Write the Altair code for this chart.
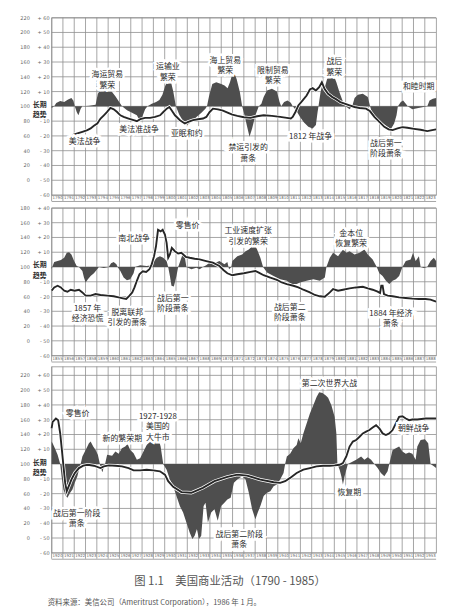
import altair as alt
import pandas as pd

GRID = "#8e8e8e"
AREA = "#4e4e4e"
LINE = "#262626"
TXT = "#2a2a2a"
CJK = "Noto Sans CJK SC"

# ---------------- Panel 1 : 1790-1824 ----------------
P1_YEARS = list(range(1790, 1824))
P1_AREA = [
    (1790.0, 97.8), (1790.23, 100), (1790.41, 104.5), (1790.76, 107.1), (1791.11, 105.8),
    (1791.46, 109.4), (1791.75, 111.2), (1791.93, 107.6), (1792.05, 100), (1792.22, 92.4),
    (1792.37, 88), (1792.57, 96.9), (1792.72, 100), (1793.30, 100.9), (1793.89, 102.2),
    (1794.09, 117), (1794.33, 122.8), (1794.62, 124.6), (1794.97, 122.8), (1795.26, 121),
    (1795.64, 113.8), (1796.02, 104.9), (1796.23, 100), (1796.67, 94.6), (1797.11, 91.5),
    (1797.54, 87.9), (1797.78, 81.3), (1798.01, 85.7), (1798.27, 96), (1798.48, 100),
    (1798.86, 103.6), (1799.24, 105.8), (1799.53, 108.5), (1799.80, 115.6), (1800.06, 128.1),
    (1800.32, 135.3), (1800.56, 132.6), (1800.76, 120.1), (1800.99, 100), (1801.29, 88.8),
    (1801.64, 79.9), (1801.99, 74.6), (1802.37, 79), (1802.81, 85.7), (1803.25, 91.5),
    (1803.60, 96.9), (1803.74, 100), (1803.92, 113.8), (1804.21, 130.4), (1804.56, 132.6),
    (1805.0, 130.4), (1805.29, 128.1), (1805.56, 124.6), (1805.77, 132.6), (1805.98, 143.8),
    (1806.12, 146), (1806.36, 137), (1806.65, 119.2), (1806.85, 100), (1807.06, 88),
    (1807.29, 72.3), (1807.50, 58.9), (1807.73, 70.1), (1808.02, 88), (1808.32, 100),
    (1808.55, 103.6), (1808.75, 112.5), (1809.05, 121.4), (1809.48, 123.7), (1809.92, 120.1),
    (1810.16, 105.8), (1810.30, 100), (1810.56, 105.8), (1810.86, 108), (1811.15, 104.9),
    (1811.32, 100), (1811.62, 94.6), (1811.97, 85.7), (1812.32, 78.1), (1812.70, 72.3),
    (1813.08, 70.1), (1813.37, 74.6), (1813.52, 92.4), (1813.60, 100), (1813.78, 119.2),
    (1813.95, 130.4), (1814.16, 125.9), (1814.36, 137), (1814.60, 145.1), (1814.89, 143.8),
    (1815.18, 132.6), (1815.47, 118.3), (1815.77, 105.8), (1816.0, 100), (1816.35, 96),
    (1816.58, 100), (1816.79, 111.2), (1817.08, 115.6), (1817.52, 117), (1817.96, 112.5),
    (1818.16, 100), (1818.39, 88.8), (1818.92, 81.3), (1819.50, 74.6), (1820.0, 69.2),
    (1820.29, 76.8), (1820.50, 88), (1820.62, 100), (1820.88, 105.8), (1821.08, 108),
    (1821.32, 103.6), (1821.49, 100), (1821.90, 96), (1822.43, 97.8), (1823.01, 99.6),
    (1823.22, 100), (1823.42, 108), (1823.71, 110.3), (1824.0, 111.2),
]
P1_LINE = [
    (1791.55, 56.7), (1791.84, 61.2), (1792.28, 63.4), (1792.72, 65.6), (1793.16, 67.9),
    (1793.45, 70.1), (1793.74, 73.7), (1794.04, 76.8), (1794.33, 83.5), (1794.62, 87.9),
    (1794.91, 92.4), (1795.20, 97.8), (1795.50, 96), (1795.79, 92.4), (1796.08, 87.9),
    (1796.37, 85.7), (1796.81, 83.5), (1797.25, 81.3), (1797.54, 79.9), (1797.84, 82.6),
    (1798.27, 84.4), (1798.71, 84.4), (1799.15, 85.7), (1799.59, 87.9), (1799.88, 92.4),
    (1800.18, 96.9), (1800.41, 99.1), (1800.61, 94.6), (1800.91, 87.9), (1801.35, 81.3),
    (1801.78, 76.8), (1802.08, 79), (1802.51, 81.3), (1802.95, 82.6), (1803.39, 83.5),
    (1803.68, 85.7), (1803.98, 92.4), (1804.27, 96.9), (1804.71, 96), (1805.15, 94.2),
    (1805.56, 91.5), (1805.98, 88.8), (1806.42, 87.1), (1807.0, 85.3), (1807.59, 84.4),
    (1808.17, 86.6), (1808.75, 87.9), (1809.48, 87.1), (1810.21, 85.7), (1810.80, 84.4),
    (1811.15, 83.5), (1811.32, 85.7), (1811.56, 92.4), (1811.82, 101.3), (1812.20, 108),
    (1812.55, 114.7), (1812.84, 122.8), (1813.08, 124.6), (1813.37, 121.4), (1813.66, 125.9),
    (1813.90, 132.6), (1814.13, 123.7), (1814.45, 117), (1814.83, 112.5), (1815.18, 109.4),
    (1815.53, 105.8), (1815.91, 103.6), (1816.35, 101.3), (1816.79, 99.1), (1817.23, 97.8),
    (1817.81, 96.9), (1818.16, 93.3), (1818.54, 85.7), (1818.98, 79), (1819.42, 72.3),
    (1819.80, 68.8), (1820.15, 67.9), (1820.59, 70.1), (1821.02, 71.9), (1821.46, 71),
    (1822.05, 69.6), (1822.63, 68.3), (1823.22, 66.5), (1823.65, 67.9), (1824.0, 68.8),
]
P1_NOTES = [
    (1794.93, 142.2, "海运贸易\n繁荣"),
    (1800.28, 152.9, "运输业\n繁荣"),
    (1805.36, 161.7, "海上贸易\n繁荣"),
    (1809.57, 148.3, "限制贸易\n繁荣"),
    (1815.0, 159.7, "战后\n繁荣"),
    (1822.46, 126.1, "和睦时期"),
    (1792.92, 51.1, "美法战争"),
    (1797.74, 68.5, "美法准战争"),
    (1801.95, 63.1, "亚眠和约"),
    (1807.38, 43.0, "禁运引发的\n萧条"),
    (1812.9, 59.1, "1812 年战争"),
    (1819.56, 49.7, "战后第一\n阶段萧条"),
]
P1_TICKS = [220, 200, 180, 160, 140, 120, 100, 80, 60, 40, 20, 0, -20]
P1_IDX_LAB = ["220", "200", "180", "160", "140", "120", "100", "80", "60", "40", "20", "0", ""]
P1_DEV_LAB = ["+ 60", "+ 50", "+ 40", "+ 30", "+ 20", "+ 10", "", "- 10", "- 20", "- 30", "- 40", "- 50", "- 60"]

# ---------------- Panel 2 : 1855-1889 ----------------
P2_YEARS = list(range(1855, 1889))
P2_AREA = [
    (1855.0, 96.9), (1855.09, 101.3), (1855.23, 106.7), (1855.53, 108), (1855.82, 109.4),
    (1856.11, 112.5), (1856.34, 119.2), (1856.55, 120.1), (1856.75, 117), (1856.99, 108),
    (1857.22, 101.3), (1857.42, 100), (1857.72, 94.6), (1857.86, 85.7), (1858.01, 79),
    (1858.21, 83.5), (1858.45, 87.9), (1858.74, 91.5), (1859.03, 96.9), (1859.18, 100),
    (1859.62, 98.7), (1860.05, 100), (1860.26, 104.9), (1860.49, 106.7), (1860.73, 103.6),
    (1860.84, 100), (1861.08, 94.6), (1861.37, 85.7), (1861.66, 82.1), (1861.95, 83.5),
    (1862.25, 91.5), (1862.39, 100), (1862.83, 102.2), (1863.41, 101.3), (1863.85, 102.2),
    (1864.06, 108), (1864.29, 112.5), (1864.58, 114.7), (1864.87, 112.5), (1865.17, 108),
    (1865.31, 100), (1865.46, 87.9), (1865.60, 74.6), (1865.81, 73.7), (1866.04, 87.9),
    (1866.19, 100), (1866.48, 112.5), (1866.63, 119.2), (1866.77, 114.7), (1866.92, 100),
    (1867.36, 96.9), (1867.80, 99.1), (1868.09, 96.9), (1868.38, 100), (1868.67, 102.2),
    (1868.96, 105.8), (1869.40, 104.9), (1869.84, 108), (1870.28, 103.6), (1870.54, 106.7),
    (1870.69, 96.9), (1870.89, 100), (1870.98, 108), (1871.42, 114.7), (1871.85, 117),
    (1872.15, 121.4), (1872.44, 123.7), (1872.73, 128.1), (1872.94, 130.4), (1873.17, 123.7),
    (1873.46, 112.5), (1873.70, 100), (1874.05, 92.4), (1874.63, 87.9), (1875.21, 83.5),
    (1875.80, 81.3), (1876.24, 76.8), (1876.67, 76.8), (1876.97, 79), (1877.55, 81.3),
    (1878.14, 83.5), (1878.72, 81.3), (1879.16, 85.7), (1879.30, 100), (1879.60, 112.5),
    (1879.89, 119.2), (1880.33, 114.7), (1880.77, 123.7), (1881.06, 119.2), (1881.35, 121.4),
    (1881.79, 117), (1882.23, 119.2), (1882.66, 123.7), (1882.96, 117), (1883.39, 110.3),
    (1883.75, 100), (1883.98, 91.5), (1884.27, 87.9), (1884.56, 81.3), (1884.86, 76.8),
    (1885.15, 81.3), (1885.44, 83.5), (1885.73, 87.9), (1886.02, 100), (1886.32, 108),
    (1886.75, 110.3), (1886.96, 119.2), (1887.19, 108), (1887.48, 114.7), (1887.63, 100),
    (1887.92, 98.7), (1888.21, 100), (1888.51, 108), (1888.80, 112.5), (1889.0, 108),
]
P2_LINE = [
    (1855.0, 67.9), (1855.23, 72.3), (1855.53, 74.6), (1855.82, 72.3), (1856.11, 67.9),
    (1856.40, 66.5), (1856.69, 69.2), (1857.04, 67.9), (1857.42, 69.2), (1857.72, 65.6),
    (1858.01, 61.2), (1858.45, 61.2), (1858.89, 63.4), (1859.32, 62.1), (1859.91, 61.2),
    (1860.49, 60.3), (1860.93, 58.9), (1861.31, 57.6), (1861.60, 56.7), (1861.89, 61.2),
    (1862.13, 65.6), (1862.33, 72.3), (1862.54, 81.3), (1862.77, 90.2), (1863.06, 94.2),
    (1863.36, 93.3), (1863.65, 96.9), (1863.85, 103.6), (1864.06, 114.7), (1864.23, 128.1),
    (1864.41, 150.4), (1864.64, 148.2), (1864.82, 150.4), (1865.02, 143.8), (1865.17, 132.6),
    (1865.31, 112.5), (1865.46, 117), (1865.63, 125.9), (1865.90, 121.4), (1866.19, 118.3),
    (1866.48, 119.2), (1866.86, 113.8), (1867.21, 112.5), (1867.65, 111.2), (1868.09, 110.3),
    (1868.67, 108), (1869.26, 105.8), (1869.84, 101.3), (1870.19, 96), (1870.54, 91.5),
    (1870.98, 88.8), (1871.42, 90.2), (1872.0, 91.5), (1872.59, 93.3), (1873.02, 94.6),
    (1873.32, 92.4), (1873.75, 88.8), (1874.34, 85.7), (1874.92, 82.6), (1875.36, 79),
    (1875.80, 76.8), (1876.38, 74.6), (1876.82, 72.3), (1877.26, 69.2), (1877.84, 65.6),
    (1878.28, 62.1), (1878.72, 60.3), (1879.16, 59.8), (1879.60, 65.6), (1879.89, 70.1),
    (1880.33, 67.9), (1880.77, 69.2), (1881.35, 71), (1881.93, 72.3), (1882.52, 73.2),
    (1882.96, 71), (1883.39, 69.2), (1883.83, 66.5), (1884.04, 64.7), (1884.15, 74.6),
    (1884.27, 74.6), (1884.39, 63.4), (1884.71, 61.2), (1885.15, 60.3), (1885.73, 58.9),
    (1886.32, 58), (1886.90, 57.1), (1887.48, 56.7), (1888.07, 56.7), (1888.51, 55.8),
    (1889.0, 53.1),
]
P2_NOTES = [
    (1867.03, 155.0, "零售价"),
    (1862.3, 137.5, "南北战争"),
    (1872.38, 148.3, "工业速度扩张\n引发的繁荣"),
    (1881.49, 144.9, "金本位\n恢复繁荣"),
    (1858.18, 43.0, "1857 年\n经济恐慌"),
    (1861.69, 38.3, "脱离联邦\n引发的萧条"),
    (1865.72, 57.1, "战后第一\n阶段萧条"),
    (1876.06, 44.4, "战后第二\n阶段萧条"),
    (1885.0, 36.3, "1884 年经济\n萧条"),
]
P2_TICKS = [180, 160, 140, 120, 100, 80, 60, 40, 20, 0, -20]
P2_IDX_LAB = ["180", "160", "140", "120", "100", "80", "60", "40", "20", "0", ""]
P2_DEV_LAB = ["+ 40", "+ 30", "+ 20", "+ 10", "", "- 10", "- 20", "- 30", "- 40", "- 50", "- 60"]

# ---------------- Panel 3 : 1920-1954 ----------------
P3_YEARS = list(range(1920, 1954))
P3_AREA = [
    (1920.0, 130.4), (1920.09, 128.1), (1920.29, 121.4), (1920.53, 112.5), (1920.76, 100),
    (1920.88, 83.5), (1921.05, 65.6), (1921.26, 56.7), (1921.40, 54.5), (1921.64, 61.2),
    (1921.84, 65.6), (1922.05, 74.6), (1922.28, 83.5), (1922.42, 92.4), (1922.57, 100),
    (1922.72, 110.3), (1923.01, 119.2), (1923.30, 128.1), (1923.45, 130.4), (1923.68, 123.7),
    (1923.89, 119.2), (1924.09, 112.5), (1924.27, 100), (1924.38, 93.3), (1924.50, 88.8),
    (1924.62, 96.9), (1924.73, 100), (1924.91, 112.5), (1925.35, 111.2), (1925.64, 117),
    (1925.93, 113.8), (1926.22, 121.4), (1926.51, 123.7), (1926.72, 127.2), (1926.95, 119.2),
    (1927.25, 114.7), (1927.54, 105.8), (1927.83, 108), (1928.12, 117), (1928.41, 125.9),
    (1928.71, 130.4), (1929.0, 134.8), (1929.23, 139.3), (1929.44, 134.8), (1929.64, 123.7),
    (1929.87, 100), (1930.17, 92.4), (1930.46, 79), (1930.75, 70.1), (1931.04, 56.7),
    (1931.34, 43.3), (1931.63, 34.4), (1931.92, 21), (1932.21, 7.6), (1932.45, -1.3),
    (1932.65, 3.1), (1932.85, 12.1), (1933.03, -1.3), (1933.23, 3.1), (1933.44, 43.3),
    (1933.61, 47.8), (1933.82, 21), (1934.11, 34.4), (1934.40, 38.8), (1934.69, 23.2),
    (1934.99, 43.3), (1935.28, 47.8), (1935.54, 52.2), (1935.83, 54.5), (1936.12, 74.6),
    (1936.42, 79), (1936.85, 83.5), (1937.15, 79), (1937.44, 61.2), (1937.73, 38.8),
    (1938.02, 25.4), (1938.23, 34.4), (1938.46, 43.3), (1938.75, 56.7), (1939.05, 61.2),
    (1939.34, 63.4), (1939.63, 70.1), (1939.92, 72.3), (1940.21, 79), (1940.51, 87.9),
    (1940.65, 100), (1940.80, 110.3), (1941.09, 113.8), (1941.38, 121.4), (1941.67, 125.9),
    (1941.82, 134.8), (1942.03, 128.1), (1942.26, 141.5), (1942.55, 154.9), (1942.84, 168.3),
    (1943.14, 179.5), (1943.43, 190.6), (1943.66, 197.3), (1943.95, 196), (1944.25, 192.9),
    (1944.45, 189.7), (1944.74, 179.5), (1945.03, 163.8), (1945.18, 141.5), (1945.27, 100),
    (1945.47, 92.4), (1945.62, 83.5), (1945.76, 72.3), (1945.91, 83.5), (1946.06, 92.4),
    (1946.20, 100), (1946.64, 103.6), (1946.93, 105.8), (1947.37, 110.3), (1947.66, 105.8),
    (1947.96, 109.4), (1948.25, 105.8), (1948.54, 100), (1948.83, 94.6), (1949.12, 87.9),
    (1949.42, 83.5), (1949.71, 90.2), (1949.86, 100), (1950.15, 119.2), (1950.44, 121.4),
    (1950.73, 123.7), (1951.02, 117), (1951.32, 113.8), (1951.61, 115.6), (1951.90, 113.8),
    (1952.19, 105.8), (1952.34, 123.7), (1952.63, 132.6), (1953.01, 133.5), (1953.30, 128.1),
    (1953.51, 100), (1953.80, 96.9), (1954.0, 94.6),
]
P3_LINE = [
    (1920.0, 148.2), (1920.09, 157.1), (1920.38, 161.6), (1920.58, 159.4), (1920.76, 141.5),
    (1920.91, 119.2), (1921.05, 96.9), (1921.20, 74.6), (1921.34, 63.4), (1921.52, 70.1),
    (1921.75, 79), (1922.05, 87.9), (1922.42, 94.6), (1922.80, 97.8), (1923.21, 99.1),
    (1923.74, 97.8), (1924.32, 94.6), (1924.62, 96.9), (1925.05, 98.2), (1925.64, 97.8),
    (1926.22, 96.9), (1926.81, 94.6), (1927.25, 91.5), (1927.83, 91.5), (1928.41, 92.4),
    (1929.0, 91.5), (1929.58, 90.2), (1930.02, 85.7), (1930.31, 76.8), (1930.75, 69.2),
    (1931.48, 62.1), (1932.36, 61.2), (1933.38, 67.9), (1934.40, 76.8), (1935.54, 82.6),
    (1936.42, 85.7), (1937.29, 84.4), (1938.46, 79), (1939.63, 75.4), (1940.21, 74.6),
    (1940.65, 76.8), (1941.09, 81.3), (1941.67, 87.9), (1942.26, 92.4), (1942.84, 94.6),
    (1943.43, 96.9), (1944.01, 97.8), (1944.6, 97.8), (1945.03, 98.2), (1945.47, 99.1),
    (1945.76, 101.3), (1946.06, 110.3), (1946.35, 123.7), (1946.64, 130.4), (1946.93, 132.6),
    (1947.23, 137), (1947.52, 141.5), (1947.81, 143.8), (1948.10, 146), (1948.39, 149.6),
    (1948.69, 152.7), (1948.98, 148.2), (1949.27, 141.5), (1949.56, 139.3), (1949.86, 141.5),
    (1950.15, 146), (1950.44, 154.9), (1950.73, 163.8), (1951.02, 164.7), (1951.32, 161.6),
    (1951.61, 159.4), (1951.90, 160.3), (1952.34, 160.3), (1953.07, 161.6), (1954.0, 161.6),
]
P3_NOTES = [
    (1922.3, 168.0, "零售价"),
    (1926.25, 134.5, "新的繁荣期"),
    (1929.4, 163.9, "1927-1928\n美国的\n大牛市"),
    (1922.22, 32.6, "战后第一阶段\n萧条"),
    (1936.59, 4.4, "战后第二阶段\n萧条"),
    (1944.57, 208.2, "第二次世界大战"),
    (1946.32, 60.7, "恢复期"),
    (1952.02, 147.9, "朝鲜战争"),
]
P3_TICKS = P1_TICKS
P3_IDX_LAB = P1_IDX_LAB
P3_DEV_LAB = P1_DEV_LAB

CAPTION = "图 1.1　美国商业活动（1790 - 1985）"
SOURCE = "资料来源：美信公司（Ameritrust Corporation），1986 年 1 月。"
TREND = "长期\n趋势"
TREND_AT = 102

W = 388


def make_panel(start, end, years, ymin, ymax, h, area, line, ticks, idx_lab, dev_lab, notes,
               footer=False):
    xs = alt.Scale(domain=[start, end], nice=False, zero=False)
    ys = alt.Scale(domain=[ymin, ymax], nice=False, zero=False)
    adf = pd.DataFrame(area, columns=["year", "idx"])
    adf["base"] = 100
    ldf = pd.DataFrame(line, columns=["year", "idx"])
    tdf = pd.DataFrame({"idx": ticks, "il": idx_lab, "dl": dev_lab})
    ndf = pd.DataFrame(notes, columns=["year", "idx", "label"])
    ydf = pd.DataFrame({"year": years, "lab": [str(y) for y in years]})

    X = alt.X("year:Q", axis=None)
    Y = alt.Y("idx:Q", axis=None)

    vgrid = alt.Chart(ydf).mark_rule(color=GRID, strokeWidth=0.8).encode(
        x=alt.X("year:Q", scale=xs, axis=None), y=alt.value(0), y2=alt.value(h + 6))
    hgrid = alt.Chart(tdf).mark_rule(color=GRID, strokeWidth=0.8).encode(
        y=alt.Y("idx:Q", scale=ys, axis=None), x=alt.value(0), x2=alt.value(W))
    strip = alt.Chart(pd.DataFrame({"k": [0]})).mark_rule(color=GRID, strokeWidth=0.8).encode(
        x=alt.value(0), x2=alt.value(W), y=alt.value(h + 6.5))
    ylab = alt.Chart(ydf).mark_text(align="left", baseline="top", fontSize=4, color="#666",
                                    font="DejaVu Sans", dx=1).encode(
        x=X, y=alt.value(h + 1), text="lab:N")
    area_l = alt.Chart(adf).mark_area(color=AREA, opacity=1).encode(x=X, y=Y, y2="base:Q")
    halo = alt.Chart(ldf).mark_line(color="white", strokeWidth=3.4).encode(x=X, y=Y)
    ln = alt.Chart(ldf).mark_line(color=LINE, strokeWidth=1.9).encode(x=X, y=Y)
    nh = alt.Chart(ndf).mark_text(lineBreak="\n", lineHeight=10.5, fontSize=8, font=CJK,
                                  color="white", stroke="white", strokeWidth=5,
                                  align="center", baseline="middle").encode(
        x=X, y=Y, text="label:N")
    nt = alt.Chart(ndf).mark_text(lineBreak="\n", lineHeight=10.5, fontSize=8, font=CJK,
                                  color=TXT, align="center", baseline="middle").encode(
        x=X, y=Y, text="label:N")
    il = alt.Chart(tdf).mark_text(align="right", baseline="middle", fontSize=5, color="#666",
                                  font="DejaVu Sans").encode(
        x=alt.value(-22), y=Y, text="il:N")
    dl = alt.Chart(tdf).mark_text(align="right", baseline="middle", fontSize=5, color="#666",
                                  font="DejaVu Sans").encode(
        x=alt.value(-2), y=Y, text="dl:N")
    tr = alt.Chart(pd.DataFrame({"idx": [TREND_AT], "label": [TREND]})).mark_text(
        lineBreak="\n", lineHeight=10.2, fontSize=7, font=CJK, fontWeight="bold", color=TXT,
        align="center", baseline="middle").encode(
        x=alt.value(-12), y=Y, text="label:N")
    layers = [vgrid, hgrid, strip, ylab, area_l, halo, ln, nh, nt, il, dl, tr]
    if footer:
        cap = alt.Chart(pd.DataFrame({"t": [CAPTION]})).mark_text(
            fontSize=11.5, font=CJK, color="#555", align="center", baseline="middle").encode(
            x=alt.value(180), y=alt.value(h + 30), text="t:N")
        src = alt.Chart(pd.DataFrame({"t": [SOURCE]})).mark_text(
            fontSize=7.5, font=CJK, color="#555", align="left", baseline="middle").encode(
            x=alt.value(-4), y=alt.value(h + 51), text="t:N")
        layers += [cap, src]
    return alt.layer(*layers).properties(width=W, height=h)


p1 = make_panel(1790, 1824, P1_YEARS, -20, 220, 179, P1_AREA, P1_LINE, P1_TICKS, P1_IDX_LAB,
                P1_DEV_LAB, P1_NOTES)
p2 = make_panel(1855, 1889, P2_YEARS, -20, 180, 149, P2_AREA, P2_LINE, P2_TICKS, P2_IDX_LAB,
                P2_DEV_LAB, P2_NOTES)
p3 = make_panel(1920, 1954, P3_YEARS, -20, 232, 188, P3_AREA, P3_LINE, P3_TICKS, P3_IDX_LAB,
                P3_DEV_LAB, P3_NOTES, footer=True)

chart = alt.vconcat(p1, p2, p3, spacing=2).properties(
    padding={"left": 12, "top": 4, "right": 4, "bottom": 2},
    background="white",
).configure_view(stroke=GRID, strokeWidth=0.8)

chart.save("out.html", embed_options={"renderer": "svg", "actions": False})
